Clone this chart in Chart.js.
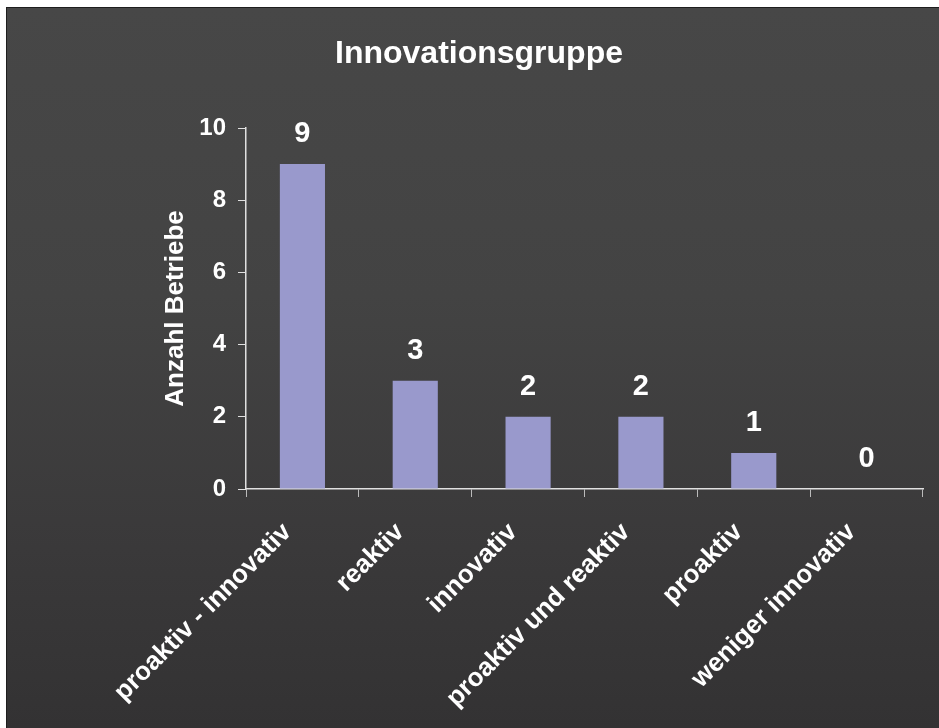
<!DOCTYPE html>
<html>
<head>
<meta charset="utf-8">
<script src="https://cdn.jsdelivr.net/npm/chart.js@4.4.1/dist/chart.umd.min.js"></script>
<style>
    html, body { margin: 0; padding: 0; background: #ffffff; overflow: hidden; }
    #panel {
        position: absolute;
        left: 6px;
        top: 7px;
        width: 932px;
        height: 720px;
        border: 1px solid #1e1e1e;
        background: linear-gradient(to bottom, #474747 0%, #434343 40%, #3a393a 75%, #333233 100%);
    }
    #chart-innovation { display: block; }
</style>
</head>
<body>
<div id="panel">
    <canvas id="chart-innovation" width="932" height="720"></canvas>
</div>
<script>
// Daten
const categories = [
    "proaktiv - innovativ",
    "reaktiv",
    "innovativ",
    "proaktiv und reaktiv",
    "proaktiv",
    "weniger innovativ",
];
const betriebe = [9, 3, 2, 2, 1, 0];
const yTicks = [0, 2, 4, 6, 8, 10];
const chartTitle = "Innovationsgruppe";

const FONT = "'Liberation Sans', Arial, sans-serif";

// Titel mittig über der ganzen Fläche
const titlePlugin = {
    id: "titleCentered",
    afterDraw(chart) {
        const ctx = chart.ctx;
        ctx.save();
        ctx.fillStyle = "#ffffff";
        ctx.font = "bold 32px " + FONT;
        ctx.textAlign = "center";
        ctx.textBaseline = "alphabetic";
        ctx.fillText(chartTitle, 472, 55);
        ctx.restore();
    },
};

// Werte über den Balken
const valueLabels = {
    id: "valueLabels",
    afterDatasetsDraw(chart) {
        const ctx = chart.ctx;
        const meta = chart.getDatasetMeta(0);
        ctx.save();
        ctx.fillStyle = "#ffffff";
        ctx.font = "bold 29px " + FONT;
        ctx.textAlign = "center";
        ctx.textBaseline = "alphabetic";
        meta.data.forEach((bar, i) => {
            ctx.fillText(String(betriebe[i]), bar.x, bar.y - 22);
        });
        ctx.restore();
    },
};

function initInnovationChart() {
    const canvas = document.getElementById("chart-innovation");
    if (!canvas) return;

    const config = {
        type: "bar",
        data: {
            labels: categories,
            datasets: [
                {
                    label: "Anzahl Betriebe",
                    data: betriebe,
                    backgroundColor: "#9999cc",
                    borderWidth: 0,
                    categoryPercentage: 1,
                    barPercentage: 0.4,
                },
            ],
        },
        options: {
            responsive: false,
            animation: false,
            layout: {
                padding: { left: 153, right: 16, top: 120, bottom: 0 },
            },
            plugins: {
                legend: { display: false },
                tooltip: { enabled: false },
                title: { display: false },
            },
            scales: {
                x: {
                    grid: {
                        display: true,
                        offset: true,
                        drawOnChartArea: false,
                        drawTicks: true,
                        tickLength: 8,
                        color: "#bbbbbb",
                    },
                    border: { display: true, color: "#e0e0e0", width: 1.5 },
                    ticks: {
                        color: "#ffffff",
                        font: { family: FONT, size: 26, weight: "bold" },
                        maxRotation: 45,
                        minRotation: 45,
                        padding: 20,
                        labelOffset: -15,
                        autoSkip: false,
                    },
                    afterFit: (scale) => { scale.height = 239; },
                },
                y: {
                    min: 0,
                    max: 10,
                    afterBuildTicks: (scale) => {
                        scale.ticks = yTicks.map((v) => ({ value: v }));
                    },
                    title: {
                        display: true,
                        text: "Anzahl Betriebe",
                        color: "#ffffff",
                        font: { family: FONT, size: 26, weight: "bold" },
                        padding: 0,
                    },
                    grid: {
                        display: true,
                        drawOnChartArea: false,
                        drawTicks: true,
                        tickLength: 8,
                        color: "#e0e0e0",
                    },
                    border: { display: true, color: "#e0e0e0", width: 1.5 },
                    ticks: {
                        color: "#ffffff",
                        font: { family: FONT, size: 24, weight: "bold" },
                        padding: 12,
                    },
                    afterFit: (scale) => { scale.width = 239 - 153; },
                },
            },
        },
        plugins: [valueLabels, titlePlugin],
    };

    canvas.chart = new Chart(canvas, config);
}

document.addEventListener("DOMContentLoaded", () => {
    initInnovationChart();
});
</script>
</body>
</html>
